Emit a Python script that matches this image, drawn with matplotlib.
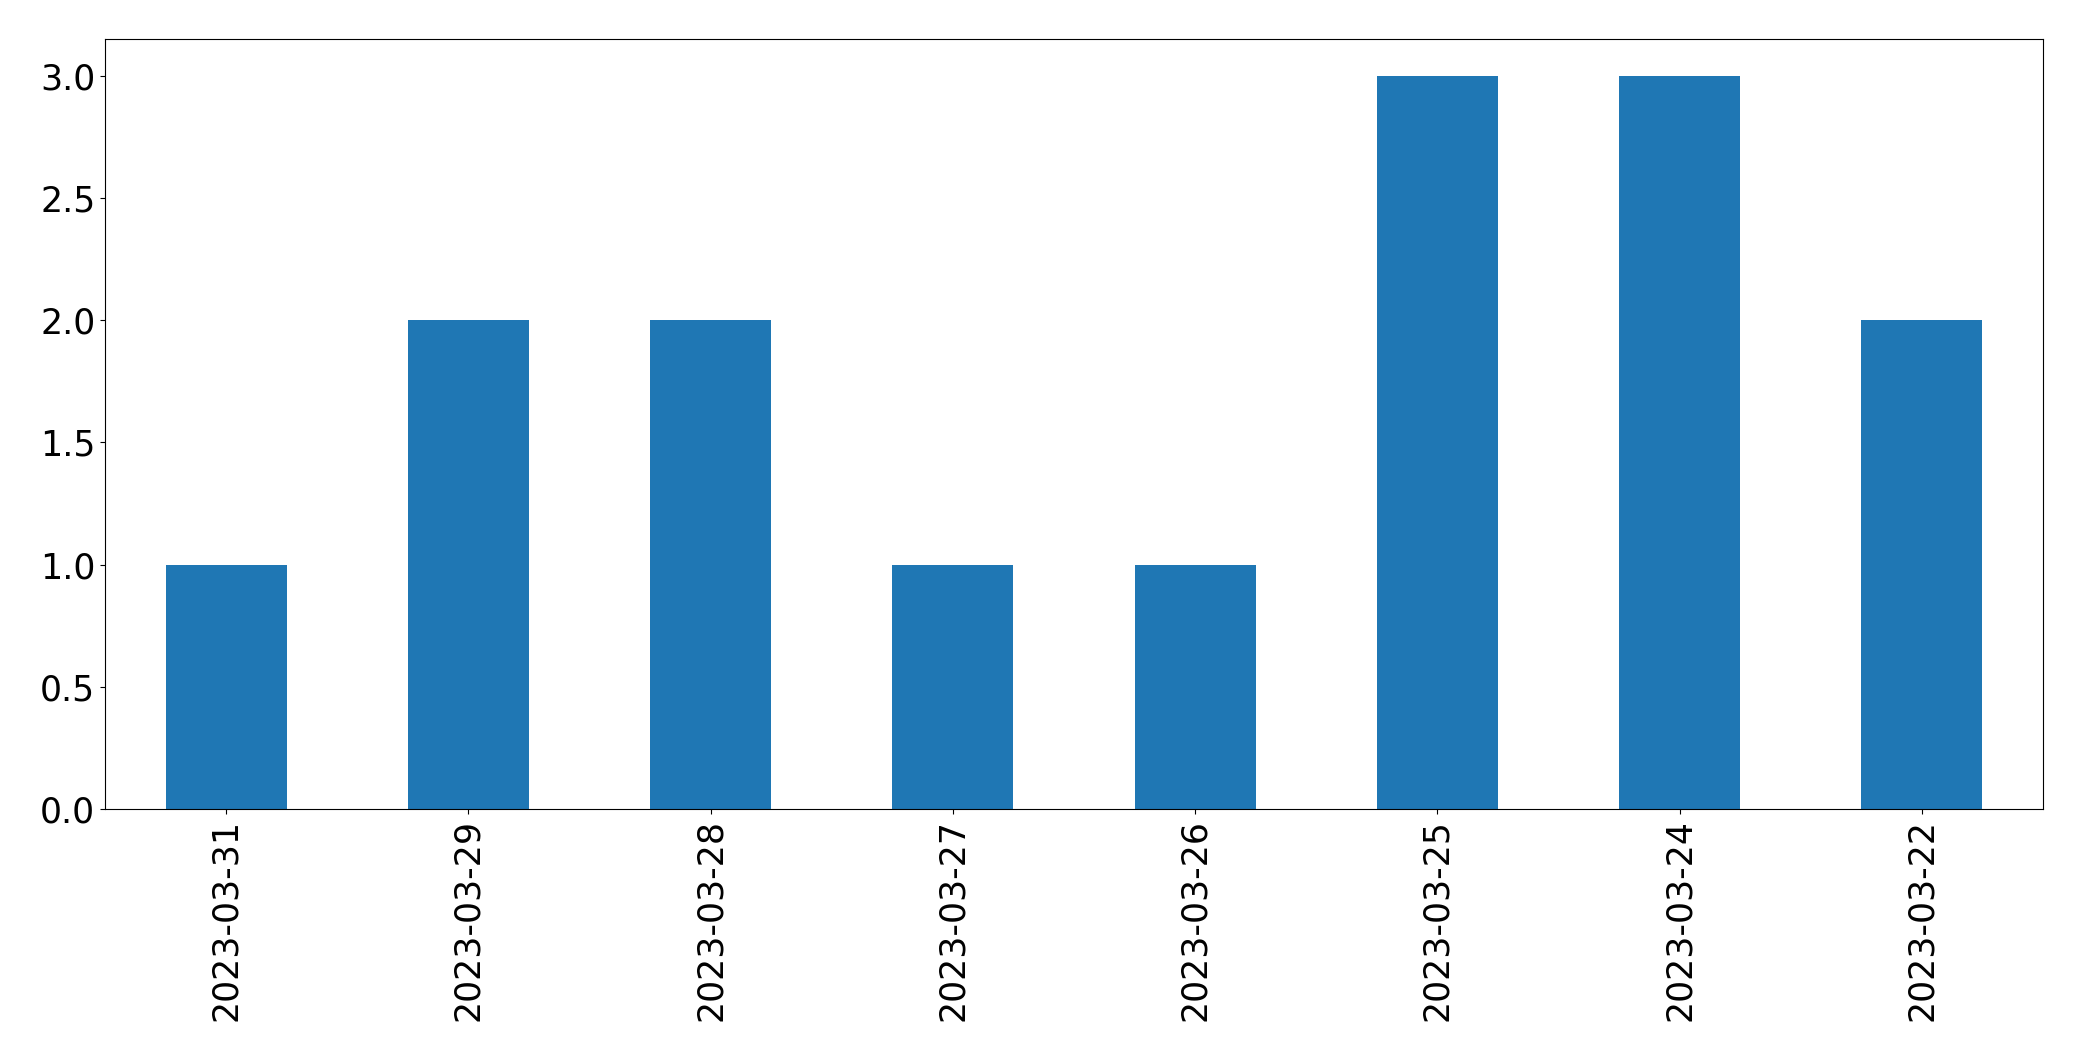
import pandas as pd
import matplotlib
matplotlib.use("Agg")
import matplotlib.pyplot as plt

dates = ["2023-03-31", "2023-03-29", "2023-03-28", "2023-03-27",
         "2023-03-26", "2023-03-25", "2023-03-24", "2023-03-22"]
counts = [1, 2, 2, 1, 1, 3, 3, 2]

counts_by_day = pd.Series(counts, index=dates)

fig = plt.figure(figsize=(20.82, 10.61), dpi=100)
ax = fig.add_axes([105 / 2082, (1061 - 809) / 1061, (2043 - 105) / 2082, (809 - 39) / 1061])
counts_by_day.plot(kind="bar", ax=ax, fontsize=25)
plt.savefig("out.png", dpi=100)
